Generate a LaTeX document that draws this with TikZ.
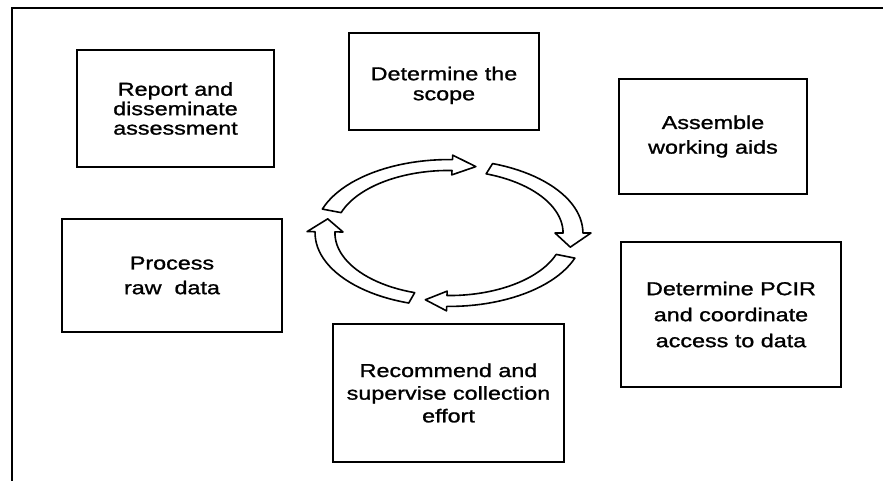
\documentclass[tikz,border=0pt]{standalone}
\usepackage{fontspec}
\setmainfont{Liberation Sans}[FakeStretch=1.25, FakeBold=1.2]
\usepackage{tikz}
\tikzset{
  stagebox/.style={draw, line width=1.4pt, align=center, inner sep=0pt,
    font=\fontsize{14}{#1}\selectfont},
  stagebox/.default=18.5pt,
  cyclearrow/.style={draw, line width=1.2pt, fill=white, line join=round}
}
% hollow arrow on the ellipse: tail angle, head base angle, tip angle
\newcommand{\cyclearrow}[3]{%
  \draw[cyclearrow] plot[domain=#1:#2] ({449+1.08*124*cos(\x)},{233+1.08*68*sin(\x)})
    -- ({449+1.145*124*cos(#2)},{233+1.145*68*sin(#2)})
    -- ({449+124*cos(#3)},{233+68*sin(#3)})
    -- ({449+0.855*124*cos(#2)},{233+0.855*68*sin(#2)})
    -- plot[domain=#2:#1] ({449+0.92*124*cos(\x)},{233+0.92*68*sin(\x)}) -- cycle;}

\begin{document}
\begin{tikzpicture}[x=0.75pt, y=-0.75pt]
    \useasboundingbox (0,0) rectangle (883,481);
    %frame
    \draw[line width=1.4pt] (12,481) -- (12,8) -- (883,8);
    %the six stages
    \node[stagebox=14.6pt, minimum width=147.75pt, minimum height=87.75pt] (report) at (175.5,108.5) {Report and\\disseminate\\assessment};
    \node[stagebox=15pt, minimum width=142.5pt, minimum height=72.75pt] (scope) at (444,81.5) {\rule{0pt}{16pt}Determine the\\scope};
    \node[stagebox, minimum width=141pt, minimum height=86.25pt] (aids) at (713,136.5) {Assemble\\working aids};
    \node[stagebox=19.5pt, minimum width=165pt, minimum height=108.75pt] (pcir) at (731,314.5) {Determine PCIR\\and coordinate\\access to data};
    \node[stagebox=17pt, minimum width=173.25pt, minimum height=103.5pt] (collect) at (448.5,393) {Recommend and\\supervise collection\\effort};
    \node[stagebox, minimum width=165pt, minimum height=84.75pt] (process) at (172,275.5) {Process\\raw\ \ data};
    %the cycle
    \cyclearrow{-161}{-88.5}{-77.5}
    \cyclearrow{-71}{0}{12}
    \cyclearrow{20}{91}{101}
    \cyclearrow{107.5}{181}{192}
\end{tikzpicture}
\end{document}
